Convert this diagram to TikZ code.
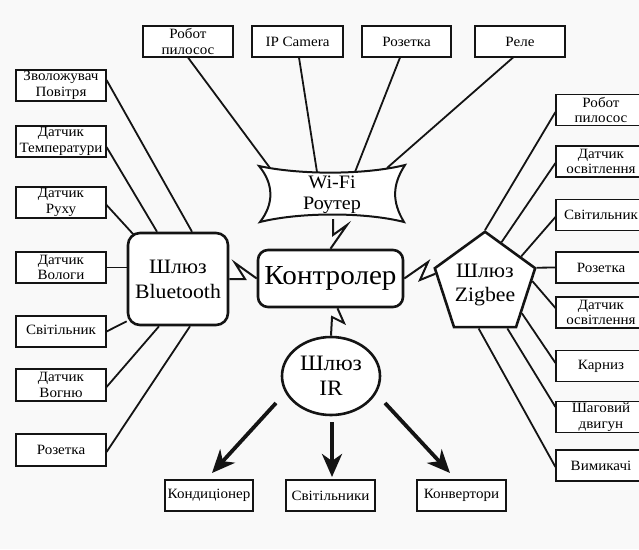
\documentclass[tikz,border=0pt]{standalone}
\usepackage{fontspec}
\setmainfont{Liberation Serif}[FakeStretch=1.06]
\usetikzlibrary{shapes.geometric,arrows.meta,calc}
\definecolor{bg}{RGB}{249,249,249}
\definecolor{ink}{RGB}{20,20,20}
\tikzset{
  dev/.style={draw=ink, fill=white, line width=1.1pt, minimum width=90pt, minimum height=31pt,
    inner sep=0pt, align=center, font=\fontsize{14.2}{15.4}\selectfont},
  link/.style={draw=ink, line width=1.8pt},
  hub/.style={draw=ink, line width=2.6pt, fill=white, align=center, inner sep=0pt},
  bolt/.style={draw=ink, line width=2pt, line join=miter},
  bigarrow/.style={draw=ink, line width=3.8pt, -{Stealth[length=23pt,width=20pt,inset=7pt]}}
}
\begin{document}
\begin{tikzpicture}[x=1pt,y=-1pt]
\useasboundingbox (0,0) rectangle (639,549);
\clip (0,0) rectangle (639,549);
\fill[bg] (0,0) rectangle (639,549);

% top devices (Wi-Fi)
\node[dev] (wr) at (188,41.5) {Робот\\пилосос};
\node[dev, minimum width=91pt] (ip) at (297.5,41.5) {IP Camera};
\node[dev, minimum width=89pt] (wroz) at (406.5,41.5) {Розетка};
\node[dev] (rele) at (520,41.5) {Реле};

% left devices (Bluetooth)
\node[dev] (zv) at (61,85.5) {Зволожувач\\Повітря};
\node[dev] (temp) at (61,141.5) {Датчик\\Температури};
\node[dev] (ruh) at (61,202.5) {Датчик\\Руху};
\node[dev] (vol) at (61,267.5) {Датчик\\Вологи};
\node[dev] (svl) at (61,331.5) {\raisebox{4pt}{Світільник}};
\node[dev, minimum height=32pt] (vog) at (61,385) {Датчик\\Вогню};
\node[dev, minimum height=32pt] (rozl) at (61,450) {Розетка};

% right devices (Zigbee)
\node[dev] (zr1) at (601,110) {Робот\\пилосос};
\node[dev] (zr2) at (601,161.5) {Датчик\\освітлення};
\node[dev] (zr3) at (601,215) {Світильник};
\node[dev] (zr4) at (601,267.5) {Розетка};
\node[dev] (zr5) at (601,312.5) {Датчик\\освітлення};
\node[dev] (zr6) at (601,366) {Карниз};
\node[dev] (zr7) at (601,417) {Шаговий\\двигун};
\node[dev] (zr8) at (601,465.5) {Вимикачі};

% bottom devices (IR)
\node[dev, minimum width=88pt] (k1) at (209,495.5) {Кондиціонер};
\node[dev, minimum width=89pt] (k2) at (330.5,495.5) {Світільники};
\node[dev, minimum width=89pt] (k3) at (461.5,495.5) {Конвертори};

% hubs
\node[hub, rounded corners=10pt, minimum width=145pt, minimum height=57pt,
  font=\fontsize{27.5}{30}\selectfont] (ctl) at (330.5,278.5) {Контролер};
\node[hub, rounded corners=12pt, minimum width=100pt, minimum height=92pt,
  font=\fontsize{20.5}{25}\selectfont] (bt) at (178,279) {Шлюз\\Bluetooth};
\node[hub, regular polygon, regular polygon sides=5, minimum size=105pt,
  font=\fontsize{20.5}{24}\selectfont] (zb) at (485,284.5) {Шлюз\\Zigbee};
\node[hub, ellipse, minimum width=98pt, minimum height=78pt,
  font=\fontsize{22}{25}\selectfont] (ir) at (331,376) {Шлюз\\IR};

% Wi-Fi router banner
\draw[draw=ink, fill=white, line width=2pt]
  (259,166) .. controls (300,175) and (365,175) .. (405,165)
  .. controls (392,185) and (392,202) .. (404,222)
  .. controls (365,212) and (300,212) .. (260,222)
  .. controls (274,204) and (274,184) .. (259,166) -- cycle;
\node[align=center, inner sep=0pt, font=\fontsize{19}{21}\selectfont] (wifi) at (332,195) {Wi-Fi\\Роутер};
\coordinate (wf1) at (270,168);
\coordinate (wf2) at (317,172);
\coordinate (wf3) at (355,172);
\coordinate (wf4) at (387,168);
\coordinate (wfb) at (333,219);

% Wi-Fi links
\draw[link] (wr.south) -- (wf1);
\draw[link] ([xshift=1.5pt]ip.south) -- (wf2);
\draw[link] ([xshift=-6.5pt]wroz.south) -- (wf3);
\draw[link] ([xshift=-7pt]rele.south) -- (wf4);

% Bluetooth links
\draw[link] ([yshift=5.5pt]zv.east) -- ([xshift=14pt]bt.north);
\draw[link] ([yshift=-5.5pt]temp.east) -- ([xshift=-21pt]bt.north);
\draw[link] ([yshift=-2.5pt]ruh.east) -- ([xshift=7pt,yshift=-3pt]bt.north west);
\draw[link] (vol.east) -- (vol.east -| bt.west);
\draw[link] (svl.east) -- ([yshift=5pt]bt.south west);
\draw[link] ([yshift=-2pt]vog.east) -- ([xshift=-19pt]bt.south);
\draw[link] ([yshift=-2pt]rozl.east) -- ([xshift=12pt]bt.south);

% Zigbee links
\draw[link] ([yshift=-2pt]zr1.west) -- (zb.corner 1);
\draw[link] ([yshift=-1.5pt]zr2.west) -- ($(zb.corner 1)!0.32!(zb.corner 5)$);
\draw[link] ([yshift=-2pt]zr3.west) -- ($(zb.corner 1)!0.7!(zb.corner 5)$);
\draw[link] (zr4.west) -- (zb.corner 5);
\draw[link] ([yshift=4.5pt]zr5.west) -- ($(zb.corner 5)!0.22!(zb.corner 4)$);
\draw[link] ([yshift=3pt]zr6.west) -- ($(zb.corner 5)!0.75!(zb.corner 4)$);
\draw[link] ([yshift=10pt]zr7.west) -- ($(zb.corner 4)!0.15!(zb.corner 3)$);
\draw[link] ([yshift=-1.5pt]zr8.west) -- ($(zb.corner 4)!0.6!(zb.corner 3)$);

% lightning connectors to the controller
\draw[bolt] (wfb) -- (333,235) -- (347,225) -- (ctl.north);
\draw[bolt] (bt.east) -- (245,279) -- (235,263) -- (ctl.west);
\draw[bolt] ($(zb.corner 2)!0.1!(zb.corner 3)$) -- (420,280) -- (428,262) -- (ctl.east);
\draw[bolt] (ir.north) -- (332,317) -- (344,323) -- ([xshift=7pt]ctl.south);

% IR arrows
\coordinate (ia1) at (276,403);
\coordinate (ia1e) at (212,473);
\coordinate (ia2) at (332,422);
\coordinate (ia2e) at (332,477);
\coordinate (ia3) at (385,403);
\coordinate (ia3e) at (450,473);
\draw[bigarrow] (ia1) -- (ia1e);
\draw[bigarrow] (ia2) -- (ia2e);
\draw[bigarrow] (ia3) -- (ia3e);
\end{tikzpicture}
\end{document}
